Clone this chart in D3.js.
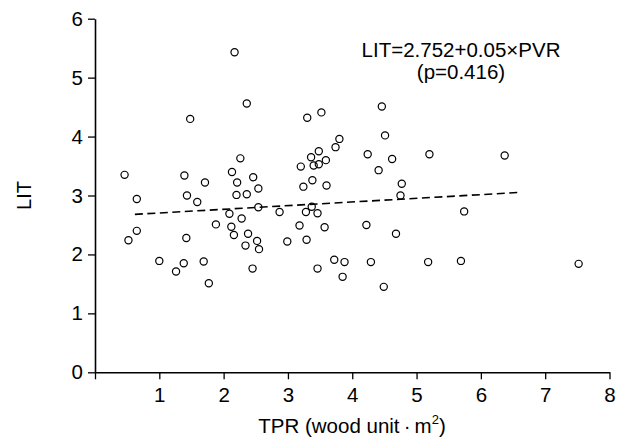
<!DOCTYPE html>
<html>
<head>
<meta charset="utf-8">
<script src="https://cdn.jsdelivr.net/npm/d3@7"></script>
<style>
  html, body { margin: 0; padding: 0; background: #fff; }
  svg { display: block; }
  text { font-family: "Liberation Sans", Arial, Helvetica, sans-serif; fill: #000; }
</style>
</head>
<body>
<svg id="chart" width="628" height="441"></svg>
<script>
// ---- data ----
const tprValues = [0.46,0.65,0.65,0.52,1.00,1.26,1.38,1.42,1.39,1.43,1.48,1.59,1.69,1.71,1.77,1.88,2.09,2.13,2.12,2.16,2.17,2.20,2.21,2.26,2.28,2.34,2.36,2.36,2.38,2.45,2.46,2.52,2.54,2.54,2.55,2.87,2.99,3.18,3.20,3.24,3.28,3.29,3.30,3.36,3.37,3.38,3.40,3.46,3.46,3.48,3.48,3.52,3.57,3.59,3.60,3.72,3.74,3.80,3.85,3.88,4.22,4.24,4.29,4.41,4.46,4.49,4.51,4.62,4.68,4.75,4.77,5.18,5.20,5.69,5.74,6.37,7.52];
const litValues = [3.35,2.94,2.40,2.24,1.89,1.71,1.85,2.28,3.34,3.00,4.30,2.89,1.88,3.22,1.51,2.51,2.69,3.40,2.47,2.33,5.43,3.01,3.22,3.63,2.61,2.15,3.02,4.56,2.35,1.76,3.31,2.23,3.12,2.80,2.09,2.72,2.22,2.49,3.49,3.15,2.72,2.25,4.32,3.65,2.81,3.26,3.51,2.70,1.76,3.53,3.75,4.41,2.46,3.60,3.17,1.91,3.82,3.96,1.62,1.87,2.50,3.70,1.87,3.43,4.51,1.45,4.02,3.62,2.35,3.00,3.20,1.87,3.70,1.89,2.73,3.68,1.84];
const fitX = [0.62, 6.57];
const fitY = [2.68, 3.05];
const xTicks = [1,2,3,4,5,6,7,8];
const yTicks = [0,1,2,3,4,5,6];
const equationLines = ["LIT=2.752+0.05\u00D7PVR", "(p=0.416)"];
const xTitle = "TPR (wood unit\u2009\u00B7\u2009m";
const yTitle = "LIT";

// ---- drawing ----
const svg = d3.select("#chart");
const x = d3.scaleLinear().domain([0, 8]).range([95, 609.5]);
const y = d3.scaleLinear().domain([0, 6]).range([372.3, 18.7]);

const fs = 20.5;

// x axis
const gx = svg.append("g").attr("transform", `translate(0,${y(0)})`)
  .call(d3.axisBottom(x).tickValues([0].concat(xTicks)).tickSize(7).tickPadding(8).tickSizeOuter(0)
    .tickFormat(d => d === 0 ? "" : String(d)));
// y axis
const gy = svg.append("g").attr("transform", `translate(${x(0)},0)`)
  .call(d3.axisLeft(y).tickValues(yTicks).tickSize(7).tickPadding(5).tickSizeOuter(0)
    .tickFormat(d => String(d)));

[gx, gy].forEach(g => {
  g.select(".domain").attr("stroke", "#000").attr("stroke-width", 1.6);
  g.selectAll(".tick line").attr("stroke", "#000").attr("stroke-width", 1.3);
  g.selectAll(".tick text").attr("font-size", fs).attr("font-family", '"Liberation Sans", Arial, sans-serif').attr("fill", "#000");
});

// regression line
const line = d3.line().x(d => x(d[0])).y(d => y(d[1]));
svg.append("path")
  .datum(d3.zip(fitX, fitY))
  .attr("d", line)
  .attr("fill", "none")
  .attr("stroke", "#000")
  .attr("stroke-width", 1.6)
  .attr("stroke-dasharray", "8,4.5");

// points
svg.append("g").selectAll("circle")
  .data(d3.zip(tprValues, litValues))
  .join("circle")
  .attr("cx", d => x(d[0]))
  .attr("cy", d => y(d[1]))
  .attr("r", 3.6)
  .attr("fill", "none")
  .attr("stroke", "#000")
  .attr("stroke-width", 1.2);

// equation
svg.append("text").attr("x", 461).attr("y", 57).attr("text-anchor", "middle")
  .attr("font-size", fs).text(equationLines[0]);
svg.append("text").attr("x", 461).attr("y", 79).attr("text-anchor", "middle")
  .attr("font-size", fs).text(equationLines[1]);

// x title
const xt = svg.append("text").attr("x", 352).attr("y", 433).attr("text-anchor", "middle")
  .attr("font-size", 20.5);
xt.append("tspan").text(xTitle);
xt.append("tspan").attr("font-size", 13).attr("dy", -9).text("2");
xt.append("tspan").attr("dy", 9).text(")");

// y title
svg.append("text")
  .attr("transform", `translate(31,${y(3)}) rotate(-90)`)
  .attr("text-anchor", "middle")
  .attr("font-size", 20)
  .text(yTitle);
</script>
</body>
</html>
